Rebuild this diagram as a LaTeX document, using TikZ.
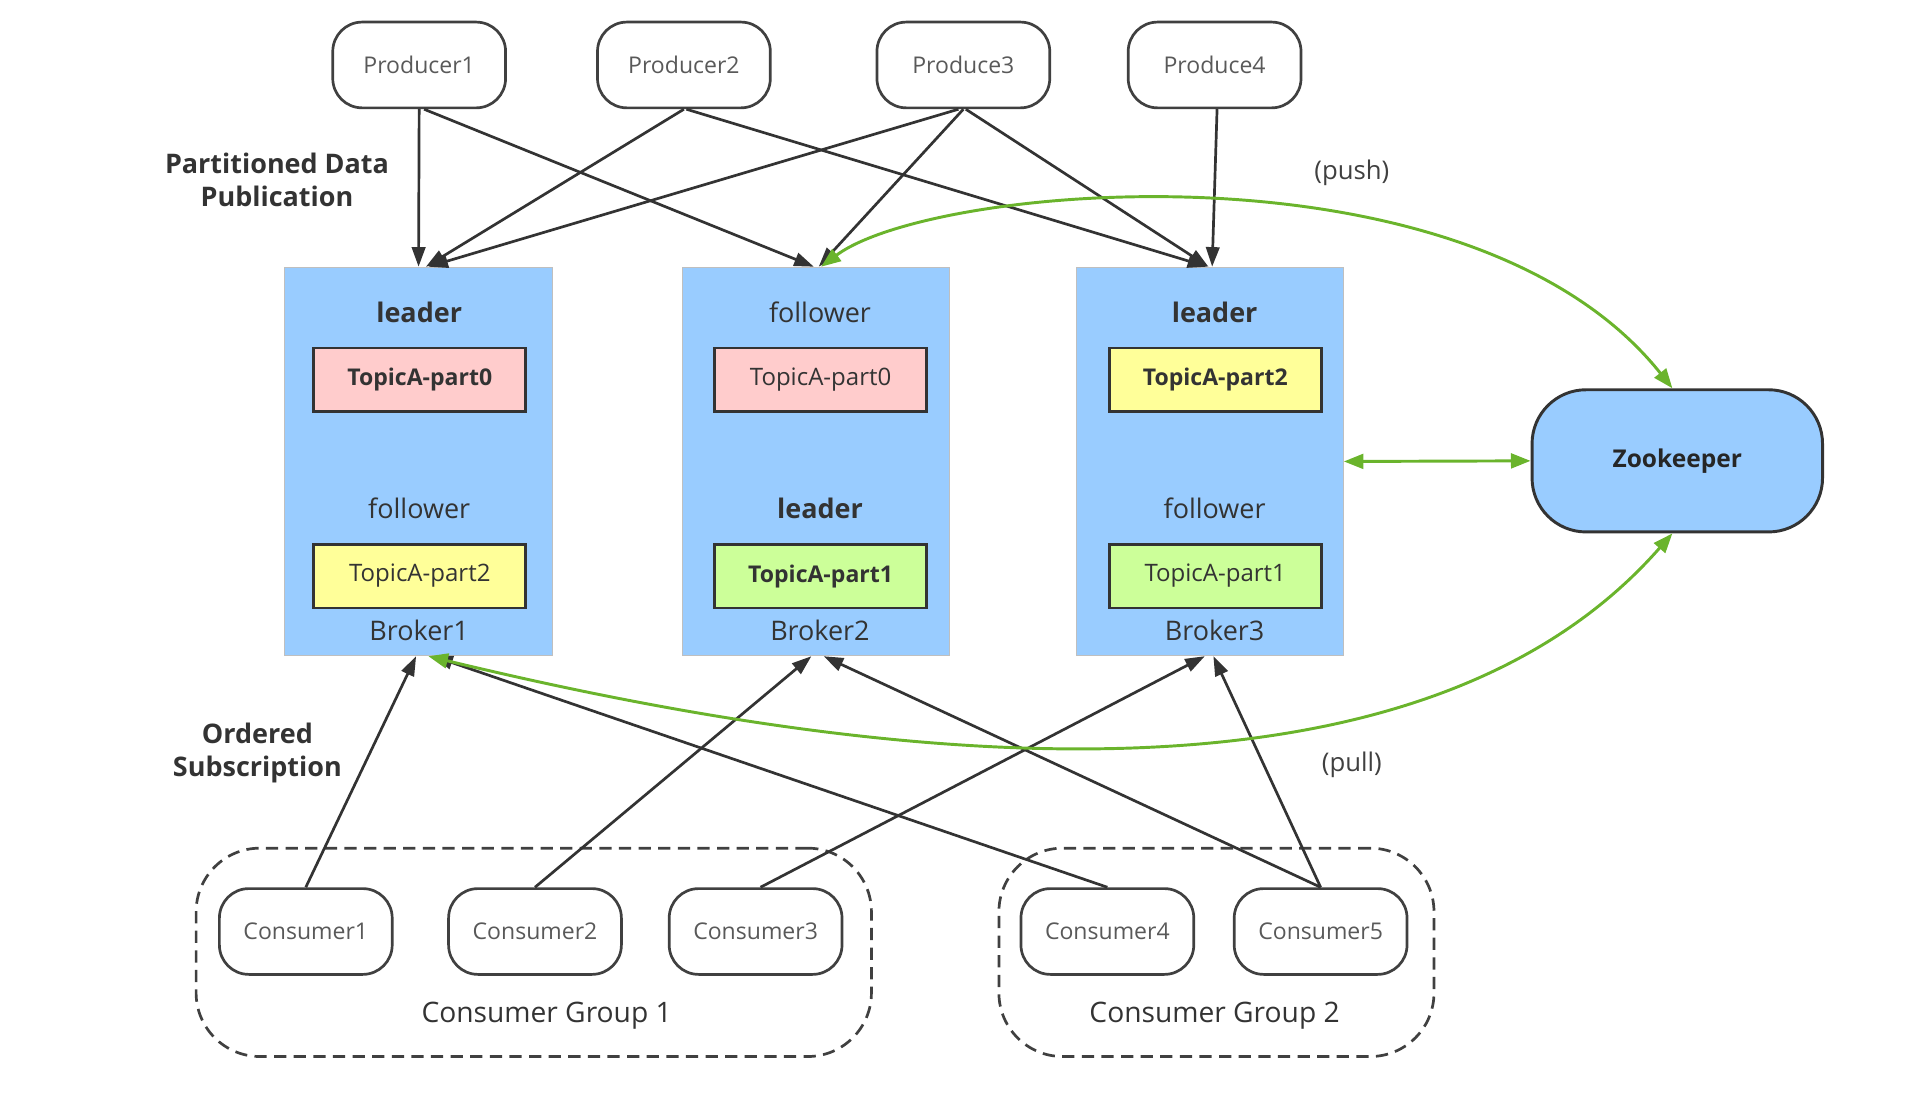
\documentclass[tikz,border=0pt]{standalone}
\usepackage{fontspec}
\setmainfont{Open Sans}
\usetikzlibrary{arrows.meta}
\definecolor{brokerblue}{HTML}{99CCFF}
\definecolor{partpink}{HTML}{FFCCCC}
\definecolor{partyellow}{HTML}{FFFF99}
\definecolor{partgreen}{HTML}{CCFF99}
\definecolor{zkgreen}{HTML}{6AB42C}
\begin{document}
\begin{tikzpicture}[
        x=0.5pt, y=-0.5pt,
        client/.style={rectangle, rounded corners=12pt, draw=black!75, line width=1.1pt, minimum width=70.5pt, minimum height=35pt, text=black!65, font=\fontsize{9.4}{10}\selectfont},
        broker/.style={rectangle, draw=black!25, fill=brokerblue, minimum width=109pt, minimum height=158.5pt},
        part/.style={rectangle, draw=black!80, line width=1.1pt, minimum width=86.5pt, minimum height=26pt, text=black!80, font=\fontsize{9.8}{10}\selectfont},
        role/.style={text=black!80, font=\fontsize{11}{12}\selectfont},
        group/.style={rectangle, rounded corners=26pt, draw=black!75, line width=1.1pt, dashed, dash pattern=on 5pt off 3pt, minimum width=275.5pt, minimum height=85pt},
        note/.style={text=black!80, align=center, font=\bfseries\fontsize{11}{13.5}\selectfont},
        arrow/.style={-{Triangle[length=8pt,width=5.5pt]}, line width=1.1pt, draw=black!80},
        garrow/.style={{Triangle[length=8pt,width=6pt]}-{Triangle[length=8pt,width=6pt]}, line width=1.2pt, draw=zkgreen}
    ]
        \useasboundingbox (0,0) rectangle (1560,907);

% Producers
        \node[client] (p1) at (342,53) {Producer1};
        \node[client] (p2) at (558,53) {Producer2};
        \node[client] (p3) at (786,53) {Produce3};
        \node[client] (p4) at (991,53) {Produce4};

% Brokers
        \node[broker] (b1) at (341.5,376.5) {};
        \node[broker] (b2) at (666,376.5) {};
        \node[broker] (b3) at (987,376.5) {};

        \node[role, font=\bfseries\fontsize{11}{12}\selectfont] (b1r1) at (342,255) {leader};
        \node[part, fill=partpink, font=\bfseries\fontsize{9.4}{10}\selectfont] (b1p1) at (342.5,310) {TopicA-part0};
        \node[role] (b1r2) at (342,415) {follower};
        \node[part, fill=partyellow] (b1p2) at (342.5,470) {TopicA-part2};
        \node[role] (b1name) at (342,514) {Broker1};

        \node[role] (b2r1) at (669,255) {follower};
        \node[part, fill=partpink] (b2p1) at (669.5,310) {TopicA-part0};
        \node[role, font=\bfseries\fontsize{11}{12}\selectfont] (b2r2) at (669,415) {leader};
        \node[part, fill=partgreen, font=\bfseries\fontsize{9.4}{10}\selectfont] (b2p2) at (669.5,470) {TopicA-part1};
        \node[role] (b2name) at (669,514) {Broker2};

        \node[role, font=\bfseries\fontsize{11}{12}\selectfont] (b3r1) at (991,255) {leader};
        \node[part, fill=partyellow, font=\bfseries\fontsize{9.4}{10}\selectfont] (b3p1) at (991.5,310) {TopicA-part2};
        \node[role] (b3r2) at (991,415) {follower};
        \node[part, fill=partgreen] (b3p2) at (991.5,470) {TopicA-part1};
        \node[role] (b3name) at (991,514) {Broker3};

% Zookeeper
        \node[rectangle, rounded corners=22pt, draw=black!80, line width=1.2pt, fill=brokerblue, minimum width=118.5pt, minimum height=58pt, text=black!85, font=\bfseries\fontsize{10}{10}\selectfont] (zk) at (1368.5,376) {Zookeeper};

% Consumer groups
        \node[group] (g1) at (435.5,777) {};
        \node[group, minimum width=177.5pt] (g2) at (992.5,777) {};
        \node[role, font=\fontsize{11.5}{12}\selectfont] (g1name) at (446,829) {Consumer Group 1};
        \node[role, font=\fontsize{11.5}{12}\selectfont] (g2name) at (991,829) {Consumer Group 2};

        \node[client] (c1) at (249.5,760) {Consumer1};
        \node[client] (c2) at (436.5,760) {Consumer2};
        \node[client] (c3) at (616.5,760) {Consumer3};
        \node[client] (c4) at (903.5,760) {Consumer4};
        \node[client] (c5) at (1077.5,760) {Consumer5};

% Labels
        \node[note] (pubnote) at (226,147) {Partitioned Data\\Publication};
        \node[note] (subnote) at (210,614) {Ordered\\Subscription};
        \node[text=black!75, font=\fontsize{10.5}{10}\selectfont] (push) at (1103,141) {(push)};
        \node[text=black!75, font=\fontsize{10.5}{10}\selectfont] (pull) at (1103,624) {(pull)};

% Publishing
        \draw[arrow] (p1.south) -- (b1.north);
        \draw[arrow] ([xshift=2pt]p1.south) -- ([xshift=-1pt]b2.north);
        \draw[arrow] (p2.south) -- ([xshift=3pt]b1.north);
        \draw[arrow] ([xshift=1pt]p2.south) -- ([xshift=-1pt]b3.north);
        \draw[arrow] ([xshift=-2pt]p3.south) -- ([xshift=4pt]b1.north);
        \draw[arrow] (p3.south) -- ([xshift=1pt]b2.north);
        \draw[arrow] ([xshift=1pt]p3.south) -- ([xshift=-0.5pt]b3.north);
        \draw[arrow] ([xshift=1pt]p4.south) -- ([xshift=1pt]b3.north);

% Subscribing
        \draw[arrow] (c1.north) -- ([xshift=-1pt]b1.south);
        \draw[arrow] (c2.north) -- ([xshift=-2pt]b2.south);
        \draw[arrow] ([xshift=2pt]c3.north) -- ([xshift=-2pt]b3.south);
        \draw[arrow] (c4.north) -- ([xshift=6pt]b1.south);
        \draw[arrow] (c5.north) -- ([xshift=3pt]b2.south);
        \draw[arrow] (c5.north) -- ([xshift=1.5pt]b3.south);

% Zookeeper links
        \draw[garrow] ([xshift=2pt]b2.north) .. controls (760,150) and (1200,110) .. ([xshift=-2pt]zk.north);
        \draw[garrow] (b3.east) -- (zk.west);
        \draw[garrow] ([xshift=4pt]b1.south) .. controls (700,620) and (1150,680) .. ([xshift=-2pt]zk.south);

    \end{tikzpicture}
\end{document}
